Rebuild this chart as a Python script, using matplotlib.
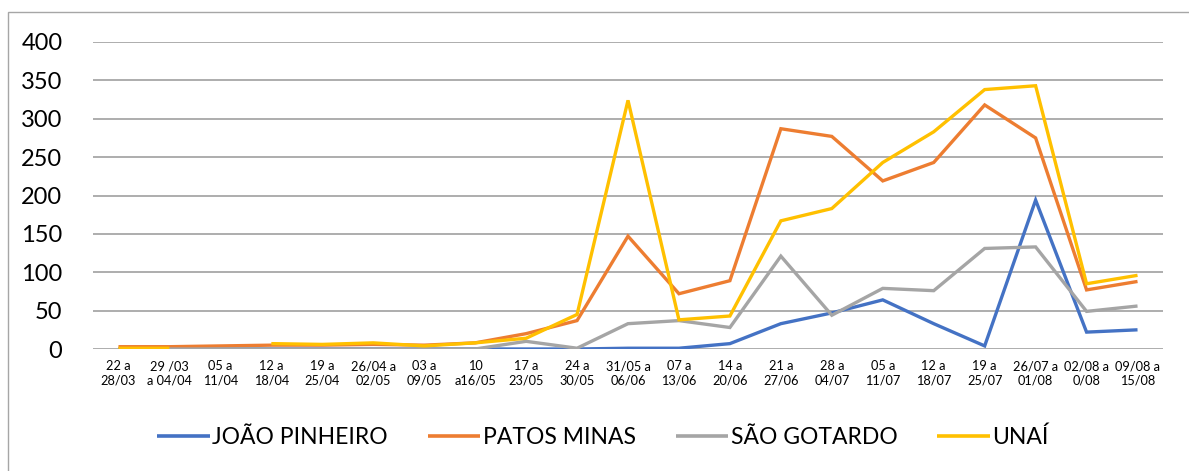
import numpy as np
import matplotlib
matplotlib.use("Agg")
import matplotlib.pyplot as plt
from matplotlib.patches import Rectangle

categories = ["22 a\n28/03", "29 /03\na 04/04", "05 a\n11/04", "12 a\n18/04", "19 a\n25/04",
              "26/04 a\n02/05", "03 a\n09/05", "10\na16/05", "17 a\n23/05", "24 a\n30/05",
              "31/05 a\n06/06", "07 a\n13/06", "14 a\n20/06", "21 a\n27/06", "28 a\n04/07",
              "05 a\n11/07", "12 a\n18/07", "19 a\n25/07", "26/07 a\n01/08", "02/08 a\n0/08",
              "09/08 a\n15/08"]

joao_pinheiro = [0, 0, 0, 0, 0, 0, 0, 0, 0, 0, 1, 1, 7, 33, 47, 64, 33, 4, 194, 22, 25]
patos_minas = [3, 3, 4, 5, 5, 6, 5, 8, 20, 37, 147, 72, 89, 287, 277, 219, 243, 318, 275, 77, 88]
sao_gotardo = [0, 0, 0, 0, 0, 0, 0, 0, 10, 1, 33, 37, 28, 121, 44, 79, 76, 131, 133, 49, 56]
unai = [1, 1, np.nan, 7, 6, 8, 4, 8, 14, 45, 324, 38, 43, 167, 183, 243, 283, 338, 343, 85, 96]

series = [("JOÃO PINHEIRO", joao_pinheiro, "#4472C4"),
          ("PATOS MINAS", patos_minas, "#ED7D31"),
          ("SÃO GOTARDO", sao_gotardo, "#A5A5A5"),
          ("UNAÍ", unai, "#FFC000")]

plt.rcParams['font.family'] = ['Lato', 'DejaVu Sans']

fig = plt.figure(figsize=(11.89, 4.71), dpi=100)
ax = fig.add_axes([93/1189, 1-349/471, (1163-93)/1189, (349-42)/471])

x = np.arange(len(categories))
for name, vals, col in series:
    ax.plot(x, np.array(vals, dtype=float), color=col, lw=2.4, label=name,
            solid_joinstyle='miter', solid_capstyle='butt')

ax.set_xlim(-0.5, len(categories) - 0.5)
ax.set_ylim(0, 400)
ax.set_yticks(range(0, 401, 50))
ax.yaxis.grid(True, color="#a0a0a0", lw=1.2)
ax.set_axisbelow(True)
for s in ax.spines.values():
    s.set_visible(False)
ax.tick_params(axis='y', length=0, labelsize=17, pad=22, colors='black')
ax.set_xticks(x)
ax.set_xticklabels(categories, fontsize=9.2, linespacing=1.25)
ax.tick_params(axis='x', length=0, pad=8)

leg = fig.legend(loc='center', bbox_to_anchor=(0.507, 1-437/471), ncol=4, frameon=False,
                 fontsize=16.5, handlelength=2.3, handletextpad=0.1, columnspacing=1.75)
for h in leg.get_lines():
    h.set_linewidth(2.6)

fig.patches.append(Rectangle((8/1189, -0.05), 1.2, 1-12/471 + 0.05, transform=fig.transFigure,
                             fill=False, edgecolor="#a6a6a6", lw=1.0))

fig.savefig("out.png", dpi=100)
